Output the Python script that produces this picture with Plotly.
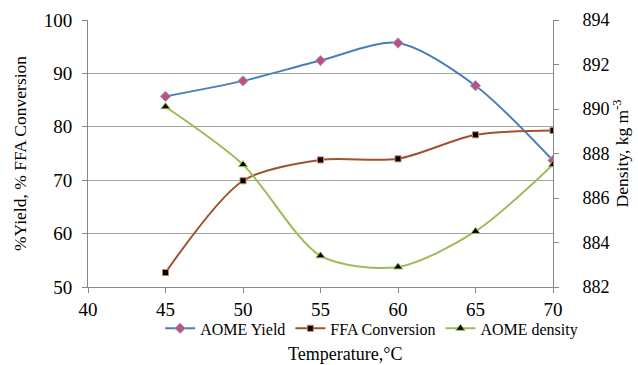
import plotly.graph_objects as go

temperature = [45, 50, 55, 60, 65, 70]
aome_yield = [85.7, 88.6, 92.4, 95.7, 87.7, 73.7]
ffa_conversion = [52.7, 69.9, 73.8, 74.0, 78.5, 79.3]
aome_density = [890.1, 887.5, 883.4, 882.9, 884.5, 887.5]

left_ticks = [50, 60, 70, 80, 90, 100]
right_ticks = [882, 884, 886, 888, 890, 892, 894]
x_ticks = [40, 45, 50, 55, 60, 65, 70]

FONT = "Liberation Serif, Times New Roman, serif"
AX = "#868686"

fig = go.Figure()
fig.add_trace(go.Scatter(
    x=temperature, y=aome_yield, name="AOME Yield", mode="lines+markers",
    line=dict(color="#4A7EBB", width=2, shape="spline", smoothing=0.8),
    marker=dict(symbol="diamond", size=8, color="#C0507A",
                line=dict(color="#8FA8D8", width=1)),
))
fig.add_trace(go.Scatter(
    x=temperature, y=ffa_conversion, name="FFA Conversion", mode="lines+markers",
    line=dict(color="#A0522D", width=2, shape="spline", smoothing=0.8),
    marker=dict(symbol="square", size=6, color="black",
                line=dict(color="#C08060", width=1)),
))
fig.add_trace(go.Scatter(
    x=temperature, y=aome_density, name="AOME density", mode="lines+markers",
    yaxis="y2",
    line=dict(color="#9BBB59", width=2, shape="spline", smoothing=0.8),
    marker=dict(symbol="triangle-up", size=8, color="black",
                line=dict(color="#9BBB59", width=1)),
))

fig.update_layout(
    width=638, height=365,
    margin=dict(l=88, r=85, t=20, b=78, autoexpand=False),
    paper_bgcolor="white", plot_bgcolor="white",
    font=dict(family=FONT, size=17, color="black"),
    showlegend=True,
    legend=dict(orientation="h", x=0.61, xanchor="center", y=-0.155, yanchor="middle",
                font=dict(size=16), itemwidth=30, tracegroupgap=0,
                bgcolor="rgba(0,0,0,0)"),
    xaxis=dict(range=[40, 70], tickvals=x_ticks, showgrid=False,
               showline=True, linecolor=AX, linewidth=1,
               ticks="outside", tickcolor=AX, ticklen=5,
               tickfont=dict(size=19), zeroline=False),
    yaxis=dict(range=[50, 100], tickvals=left_ticks, showgrid=True,
               gridcolor="#A6A6A6", gridwidth=1,
               showline=True, linecolor=AX, linewidth=1,
               ticks="outside", tickcolor=AX, ticklen=5, ticklabelstandoff=6,
               tickfont=dict(size=19), zeroline=False,
               title=dict(text="%Yield, % FFA Conversion", font=dict(size=17.5), standoff=12)),
    yaxis2=dict(range=[882, 894], tickvals=right_ticks, overlaying="y", side="right",
                showgrid=False, showline=True, linecolor=AX, linewidth=1,
                ticks="outside", tickcolor=AX, ticklen=5, ticklabelstandoff=20,
                tickfont=dict(size=18), zeroline=False,
                title=dict(text="Density, kg m<sup>-3</sup>", font=dict(size=17.5), standoff=0)),
    annotations=[dict(text="Temperature,°C", x=(345 - 88) / 465, xref="paper",
                      y=(287 - 354) / 267, yref="paper",
                      xanchor="center", yanchor="middle",
                      showarrow=False, font=dict(size=18))],
)

fig.write_html("out.html", config={"displayModeBar": False},
               post_script="document.body.style.margin='0';")
